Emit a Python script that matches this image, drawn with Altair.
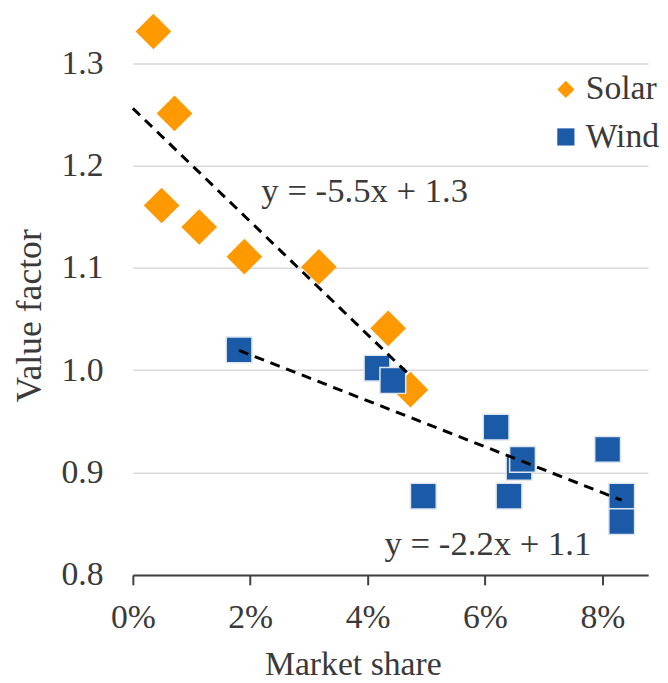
import altair as alt
import pandas as pd

# ---- data ----
series_names = ["Solar", "Wind"]
series_colors = ["#FF9900", "#1B5AA6"]
series_shapes = ["diamond", "square"]

solar_share = [0.0035, 0.0071, 0.0049, 0.0113, 0.0190, 0.0317, 0.0435, 0.0473]
solar_value = [1.331, 1.251, 1.161, 1.140, 1.111, 1.101, 1.041, 0.981]

wind_share = [0.0181, 0.0416, 0.0443, 0.0495, 0.0619, 0.0641, 0.0658, 0.0664, 0.0809, 0.0833, 0.0833]
wind_value = [1.020, 1.002, 0.990, 0.877, 0.9445, 0.877, 0.905, 0.913, 0.9226, 0.877, 0.852]

x_ticks = [0, 0.02, 0.04, 0.06, 0.08]
y_ticks = [0.8, 0.9, 1.0, 1.1, 1.2, 1.3]

eq_text = ["y = -5.5x + 1.3", "y = -2.2x + 1.1"]
eq_share = [0.0219, 0.0429]
eq_value = [1.1645, 0.819]

solar_extent = [0, 0.0473]
wind_extent = [0.0181, 0.0833]

FONT = "Liberation Serif"
TXT = "#3a3a3a"

df = pd.DataFrame({
    "share": solar_share + wind_share,
    "value": solar_value + wind_value,
    "series": ["Solar"] * len(solar_share) + ["Wind"] * len(wind_share),
})
eq_df = pd.DataFrame({"text": eq_text, "share": eq_share, "value": eq_value})

xscale = alt.Scale(domain=[0, 0.0878], nice=False, zero=False)
yscale = alt.Scale(domain=[0.8, 1.35], nice=False, zero=False)

x_enc = alt.X(
    "share:Q", scale=xscale,
    axis=alt.Axis(
        values=x_ticks, format=".0%", title="Market share", grid=False,
        domainColor="#404040", domainWidth=2, tickColor="#404040", tickWidth=2,
        tickSize=10, labelPadding=16, labelFlush=False, titleX=222, titleY=101,
        titleBaseline="alphabetic", titleAlign="center",
    ),
)
y_enc = alt.Y(
    "value:Q", scale=yscale,
    axis=alt.Axis(
        values=y_ticks, format=".1f", title="Value factor", grid=True,
        gridColor="#d9d9d9", gridWidth=1.5, domain=False, ticks=False, tickSize=0,
        labelPadding=30, labelFlush=False, titleX=-93, titleY=306,
        titleBaseline="alphabetic", titleAlign="center", titleAngle=270,
        titleFontSize=36,
    ),
)

leg = alt.Legend(
    title=None, orient="none", legendX=420, legendY=61, padding=0,
    symbolSize=300, symbolStrokeWidth=0, rowPadding=14, labelOffset=3,
    labelFont=FONT, labelFontSize=34, labelColor=TXT,
)
color = alt.Color("series:N", scale=alt.Scale(domain=series_names, range=series_colors), legend=leg)
shape = alt.Shape("series:N", scale=alt.Scale(domain=series_names, range=series_shapes), legend=leg)

base = alt.Chart(df)

solar_pts = base.transform_filter("datum.series == 'Solar'").mark_point(
    filled=True, size=1296, opacity=1, strokeWidth=0
).encode(x=x_enc, y=y_enc, color=color, shape=shape)

wind_pts = base.transform_filter("datum.series == 'Wind'").mark_point(
    filled=True, size=676, opacity=1, stroke="#dfe6f0", strokeWidth=1.5
).encode(x=x_enc, y=y_enc, color=color, shape=shape)

line_style = dict(color="black", strokeDash=[10, 7], strokeWidth=3)

solar_fit = base.transform_filter("datum.series == 'Solar'").transform_regression(
    "share", "value", extent=solar_extent
).mark_line(**line_style).encode(x="share:Q", y="value:Q")

wind_fit = base.transform_filter("datum.series == 'Wind'").transform_regression(
    "share", "value", extent=wind_extent
).mark_line(**line_style).encode(x="share:Q", y="value:Q")

eqs = alt.Chart(eq_df).mark_text(
    align="left", baseline="alphabetic", font=FONT, fontSize=35, color=TXT
).encode(x="share:Q", y="value:Q", text="text:N")

chart = alt.layer(solar_pts, wind_pts, solar_fit, wind_fit, eqs).properties(
    width=520, height=568,
    autosize=alt.AutoSizeParams(type="none"),
    padding={"left": 126, "top": 1, "right": 12, "bottom": 112},
    background="white",
).configure_view(stroke=None).configure_axis(
    labelFont=FONT, labelFontSize=34, labelColor=TXT,
    titleFont=FONT, titleFontSize=34, titleColor=TXT, titleFontWeight="normal",
)

chart.save("out.html", embed_options={"renderer": "svg", "actions": False})
